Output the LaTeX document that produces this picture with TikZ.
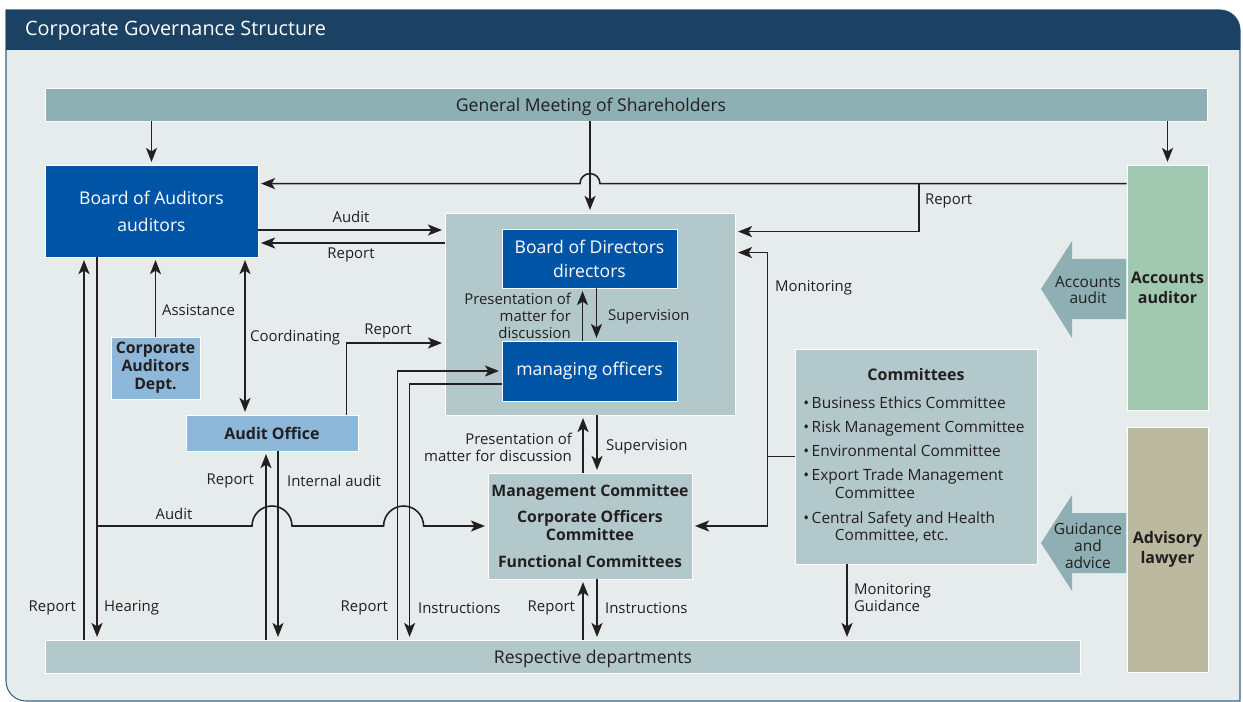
\documentclass[tikz,border=0pt]{standalone}
\usepackage{fontspec}
\setmainfont{Open Sans}
\usetikzlibrary{arrows.meta,positioning}

\definecolor{headblue}{HTML}{1B4262}
\definecolor{bodygray}{HTML}{E6ECEC}
\definecolor{framblue}{HTML}{3D6482}
\definecolor{shareteal}{HTML}{8EAFB4}
\definecolor{paleteal}{HTML}{B2C8CB}
\definecolor{boardblue}{HTML}{0054A6}
\definecolor{officeblue}{HTML}{8DB8D9}
\definecolor{auditgreen}{HTML}{A1C8B1}
\definecolor{lawkhaki}{HTML}{BBB9A0}
\definecolor{inkgray}{HTML}{231F20}

\newcommand\titlesize{\fontsize{11.3}{13}\selectfont}
\newcommand\boxsize{\fontsize{10}{11.5}\selectfont}
\newcommand\headsize{\fontsize{9.1}{11.5}\selectfont\bfseries}
\newcommand\lblsize{\fontsize{8.5}{9.6}\selectfont}
\newcommand\listsize{\fontsize{8.8}{10.2}\selectfont}

\begin{document}
\begin{tikzpicture}[x=0.02cm, y=-0.02cm,
  box/.style={draw=white, line width=0.5pt, inner sep=0pt, align=center, font=\boxsize},
  board/.style={box, fill=boardblue, text=white},
  pale/.style={box, fill=paleteal, text=inkgray},
  office/.style={box, fill=officeblue, text=inkgray, font=\headsize},
  lbl/.style={text=inkgray, font=\lblsize, inner sep=1pt, align=center},
  flow/.style={draw=inkgray, line width=0.9pt, -{Stealth[length=8pt,width=6.3pt,inset=2pt]}, shorten >=1.5pt},
  twoway/.style={flow, {Stealth[length=8pt,width=6.3pt,inset=2pt]}-{Stealth[length=8pt,width=6.3pt,inset=2pt]}, shorten <=1.5pt},
  link/.style={draw=inkgray, line width=0.9pt}]

\useasboundingbox (0,0) rectangle (1243,702);

% panel and title bar
\draw[fill=bodygray, draw=framblue, line width=0.6pt] (6,10) -- (1220,10) arc[start angle=90,end angle=0,radius=0.4cm] -- (1240,701) -- (26,701) arc[start angle=270,end angle=180,radius=0.4cm] -- cycle;
\fill[headblue] (6,50) -- (6,10) -- (1220,10) arc[start angle=90,end angle=0,radius=0.4cm] -- (1240,50) -- cycle;
\node[anchor=west, text=white, font=\titlesize] (title) at (19,31) {Corporate Governance Structure};

% boxes
\node[box, fill=shareteal, minimum width=23.26cm, minimum height=0.66cm] (gms) at (626.5,104.5) {};
\node[text=inkgray, font=\boxsize] (gmstxt) at (591,107) {General Meeting of Shareholders};
\node[board, minimum width=4.26cm, minimum height=1.84cm] (boa) at (151.5,211) {Board of Auditors\\[4pt]auditors};
\node[pale, minimum width=5.8cm, minimum height=4.04cm] (bodarea) at (590,314) {};
\node[board, minimum width=3.5cm, minimum height=1.18cm] (bod) at (589.5,258.5) {Board of Directors\\[2.3pt]directors};
\node[board, minimum width=3.5cm, minimum height=1.2cm] (mo) at (589.5,371) {managing officers};
\node[office, minimum width=1.78cm, minimum height=1.24cm, font=\fontsize{9}{10.2}\selectfont\bfseries] (cad) at (155.5,368) {Corporate\\Auditors\\Dept.};
\node[office, minimum width=3.44cm, minimum height=0.72cm] (ao) at (272,433) {Audit Office};
\node[pale, minimum width=4.08cm, minimum height=2.12cm, font=\fontsize{9}{10.2}\selectfont\bfseries] (mc) at (590,526) {Management Committee\\[5pt]Corporate Officers\\Committee\\[5pt]Functional Committees};
\node[pale, minimum width=4.84cm, minimum height=4.3cm] (cmt) at (916,456.5) {};
\node[box, fill=auditgreen, text=inkgray, font=\headsize, minimum width=1.62cm, minimum height=4.9cm] (acc) at (1167.5,287.5) {Accounts\\auditor};
\node[box, fill=lawkhaki, text=inkgray, font=\headsize, minimum width=1.62cm, minimum height=4.9cm] (law) at (1167.5,549.5) {Advisory\\lawyer};
\node[pale, minimum width=20.72cm, minimum height=0.66cm] (dept) at (563,656.5) {};
\node[text=inkgray, font=\boxsize] (depttxt) at (593,659) {Respective departments};

% committee list
\node[font=\headsize, text=inkgray] (cmttitle) at (916,375) {Committees};
\node[anchor=north west, font=\listsize, text=inkgray, align=left, inner sep=0pt] (cmtlist) at (803,396) {%
  \textbullet\,Business Ethics Committee\\[3.6pt]
  \textbullet\,Risk Management Committee\\[3.6pt]
  \textbullet\,Environmental Committee\\[3.6pt]
  \textbullet\,Export Trade Management\\
  \hspace*{18pt}Committee\\[3.6pt]
  \textbullet\,Central Safety and Health\\
  \hspace*{18pt}Committee, etc.};

% block arrows from the outside experts
\fill[shareteal] (1126,259) -- (1072,259) -- (1072,241) -- (1041,289) -- (1072,338) -- (1072,319) -- (1126,319) -- cycle;
\node[lbl, font=\fontsize{8.8}{9.6}\selectfont] (acclbl) at (1088,290) {Accounts\\audit};
\fill[shareteal] (1126,513) -- (1072,513) -- (1072,495) -- (1041,543) -- (1072,591) -- (1072,573) -- (1126,573) -- cycle;
\node[lbl, font=\fontsize{8.8}{9.6}\selectfont] (lawlbl) at (1088,546) {Guidance\\and\\advice};

% shareholders down to the organs
\draw[flow] (gms.south -| boa.north) -- (boa.north);
\draw[flow] (gms.south -| bodarea.north) -- (bodarea.north);
\draw[flow] (gms.south -| acc.north) -- (acc.north);

% accounts auditor reports
\coordinate (hoptop) at ([yshift=-0.38cm]boa.north east -| bodarea.north);
\coordinate (rptfork) at (919,184);
\draw[flow] ([yshift=-0.38cm]boa.north east -| acc.west) -- ([xshift=0.2cm]hoptop) arc[start angle=0,end angle=180,radius=0.2cm] -- ([yshift=-0.38cm]boa.north east);
\draw[flow] (rptfork) |- ([yshift=-0.38cm]bodarea.north east);

% auditors and directors
\draw[flow] ([yshift=-0.38cm]boa.east) -- ([yshift=-0.38cm]boa.east -| bodarea.west);
\draw[flow] ([yshift=-0.64cm]boa.east -| bodarea.west) -- ([yshift=-0.64cm]boa.east);
\draw[flow] (cad.north) -- (cad.north |- boa.south);
\draw[twoway] ([xshift=-0.54cm]ao.north) -- ([xshift=-0.54cm]ao.north |- boa.south);
\draw[flow] ([xshift=-0.24cm]ao.north east) |- ([yshift=-0.58cm]bodarea.west);

% board, officers, committees
\draw[flow] ([xshift=-0.14cm]mo.north) -- ([xshift=-0.14cm]bod.south);
\draw[flow] ([xshift=0.14cm]bod.south) -- ([xshift=0.14cm]mo.north);
\draw[flow] ([xshift=-0.14cm]mc.north) -- ([xshift=-0.14cm]bodarea.south);
\draw[flow] ([xshift=0.14cm]bodarea.south) -- ([xshift=0.14cm]mc.north);
\draw[flow] ([xshift=-0.14cm]mc.south |- dept.north) -- ([xshift=-0.14cm]mc.south);
\draw[flow] ([xshift=0.14cm]mc.south) -- ([xshift=0.14cm]mc.south |- dept.north);

% monitoring by the committees
\draw[link] (cmt.west) -- ++(-0.54cm,0) coordinate (monfork);
\draw[flow] (monfork) |- ([yshift=-0.8cm]bodarea.north east);
\draw[flow] (monfork) |- (mc.east);
\draw[flow] ([xshift=-1.38cm]cmt.south) -- ([xshift=-1.38cm]cmt.south |- dept.north);

% lines to the departments
\draw[flow] ([xshift=-1.35cm]boa.south |- dept.north) -- ([xshift=-1.35cm]boa.south);
\draw[flow] ([xshift=-1.09cm]boa.south) -- ([xshift=-1.09cm]boa.south |- dept.north);
\draw[flow] ([xshift=-0.12cm]ao.south |- dept.north) -- ([xshift=-0.12cm]ao.south);
\draw[flow] ([xshift=0.12cm]ao.south) -- ([xshift=0.12cm]ao.south |- dept.north);
\coordinate (hopA) at (ao.south |- mc.west);
\coordinate (hopB) at ([xshift=-1.96cm]mo.west |- mc.west);
\draw[flow] ([xshift=-0.12cm]hopB |- dept.north) |- (mo.west);
\draw[flow] ([yshift=-0.26cm]mo.west) -| ([xshift=0.12cm]hopB |- dept.north);

% audit line hopping over the vertical pairs
\draw[flow] ([xshift=-1.09cm]boa.south |- mc.west) -- ([xshift=-0.4cm]hopA) arc[start angle=180,end angle=0,radius=0.4cm] -- ([xshift=-0.4cm]hopB) arc[start angle=180,end angle=0,radius=0.4cm] -- (mc.west);

% labels
\node[lbl] (audittxt) at (351,217) {Audit};
\node[lbl] (reporttxt) at (351,255) {Report};
\node[lbl, anchor=west] (accrpt) at (923,201) {Report};
\node[lbl, anchor=west] (assisttxt) at (160,310) {Assistance};
\node[lbl, anchor=west] (coordtxt) at (248,338) {Coordinating};
\node[lbl] (aorpt) at (388,331) {Report};
\node[lbl, anchor=east, align=right] (presup) at (573,316) {Presentation of\\matter for\\discussion};
\node[lbl, anchor=west] (supup) at (606,317) {Supervision};
\node[lbl, anchor=west] (montxt) at (773,288) {Monitoring};
\node[lbl, anchor=east, align=right] (preslow) at (574,447) {Presentation of\\matter for discussion};
\node[lbl, anchor=west] (suplow) at (604,447) {Supervision};
\node[lbl, anchor=east] (aoup) at (256,481) {Report};
\node[lbl, anchor=west] (aodown) at (285,481) {Internal audit};
\node[lbl] (audittxt2) at (174,514) {Audit};
\node[lbl, anchor=east] (leftrpt) at (78,608) {Report};
\node[lbl, anchor=west] (hearing) at (102,608) {Hearing};
\node[lbl, anchor=east] (morpt) at (390,608) {Report};
\node[lbl, anchor=west] (moinst) at (416,608) {Instructions};
\node[lbl, anchor=east] (mcrpt) at (577,608) {Report};
\node[lbl, anchor=west] (mcinst) at (603,608) {Instructions};
\node[lbl, anchor=west, align=left] (guide) at (852,598) {Monitoring\\Guidance};
\end{tikzpicture}
\end{document}
